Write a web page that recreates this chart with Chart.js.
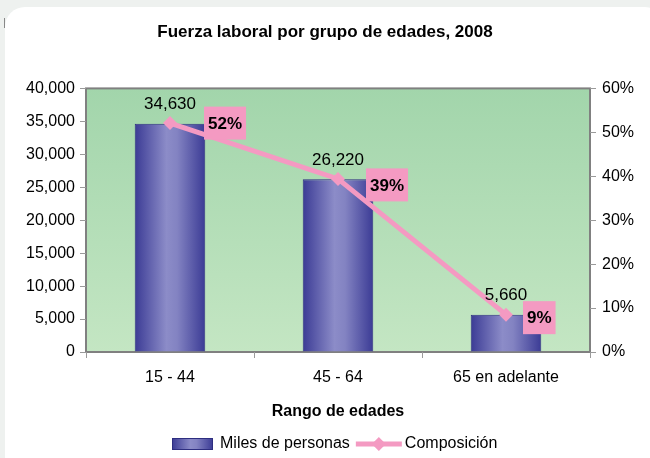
<!DOCTYPE html>
<html>
<head>
<meta charset="utf-8">
<script src="https://cdn.jsdelivr.net/npm/chart.js@4/dist/chart.umd.min.js"></script>
<style>
	body { margin: 0; background: #eef1ef; overflow: hidden; }
	#card { position: absolute; left: 5px; top: 7px; width: 660px; height: 470px; background: #ffffff; border-radius: 20px; }
	#mark { position: absolute; left: 4px; top: 18px; width: 1px; height: 10px; background: #888; }
	#wrap { position: absolute; left: 0; top: 0; width: 650px; height: 458px; }
</style>
</head>
<body>
<div id="card"></div>
<div id="mark"></div>
<div id="wrap"><canvas id="laborChart" width="650" height="458"></canvas></div>
<script>
var categories = [ "15 - 44", "45 - 64", "65 en adelante" ];
var miles = [ 34630, 26220, 5660 ];
var composicion = [ 52.1, 39.4, 8.5 ];
var pctLabels = [ "52%", "39%", "9%" ];
var seriesNames = [ "Miles de personas", "Composición" ];

var FONT = "'Liberation Sans', Arial, sans-serif";
var PINK = "#f49ac2";
var BAR_PCT = 0.42;

function barGradient(ctx, x, w) {
	var g = ctx.createLinearGradient(x - w / 2, 0, x + w / 2, 0);
	g.addColorStop(0, "#3b3b95");
	g.addColorStop(0.45, "#8c8cc8");
	g.addColorStop(0.6, "#8383c2");
	g.addColorStop(1, "#3b3b95");
	return g;
}

// plot area background with border
var plotBg = {
	id : "plotBg",
	beforeDraw : function(chart) {
		var a = chart.chartArea, c = chart.ctx;
		c.save();
		var g = c.createLinearGradient(0, a.top, 0, a.bottom);
		g.addColorStop(0, "#a2d5ab");
		g.addColorStop(1, "#c4e6c3");
		c.fillStyle = g;
		c.fillRect(a.left, a.top, a.right - a.left, a.bottom - a.top);
		c.strokeStyle = "#808080";
		c.lineWidth = 2;
		c.strokeRect(a.left, a.top, a.right - a.left, a.bottom - a.top);
		c.restore();
	}
};

// value labels and pink percentage boxes
var valueLabels = {
	id : "valueLabels",
	afterDatasetsDraw : function(chart, args, opts) {
		var c = chart.ctx;
		c.save();
		c.textAlign = "center";
		c.textBaseline = "middle";
		c.fillStyle = "#000";
		c.font = "17px " + FONT;
		chart.getDatasetMeta(1).data.forEach(function(bar, i) {
			c.fillText(miles[i].toLocaleString("en-US"), bar.x, bar.y - 19);
		});
		c.font = "bold 17px " + FONT;
		chart.getDatasetMeta(0).data.forEach(function(pt, i) {
			var w = c.measureText(pctLabels[i]).width + 8;
			var h = 33;
			var left = pt.x + opts.dx[i];
			var cy = pt.y + opts.dy[i];
			c.fillStyle = PINK;
			c.fillRect(left, cy - h / 2, w, h);
			c.fillStyle = "#000";
			c.fillText(pctLabels[i], left + w / 2, cy + 1);
		});
		c.restore();
	}
};

// legend drawn by hand: gradient swatch and line with diamond
var customLegend = {
	id : "customLegend",
	afterDraw : function(chart) {
		var c = chart.ctx;
		var y = 444;
		c.save();
		c.font = "16px " + FONT;
		c.textBaseline = "middle";
		c.textAlign = "left";
		var x = 172;
		c.fillStyle = barGradient(c, x + 20.5, 41);
		c.fillRect(x, y - 6, 41, 12);
		c.strokeStyle = "#2e2e80";
		c.lineWidth = 1;
		c.strokeRect(x + 0.5, y - 5.5, 40, 11);
		c.fillStyle = "#000";
		c.fillText(seriesNames[0], x + 48, y);
		x = x + 48 + c.measureText(seriesNames[0]).width + 6;
		c.strokeStyle = PINK;
		c.lineWidth = 5;
		c.beginPath();
		c.moveTo(x, y);
		c.lineTo(x + 46, y);
		c.stroke();
		c.fillStyle = PINK;
		c.beginPath();
		c.moveTo(x + 23, y - 7);
		c.lineTo(x + 30, y);
		c.lineTo(x + 23, y + 7);
		c.lineTo(x + 16, y);
		c.closePath();
		c.fill();
		c.fillStyle = "#000";
		c.fillText(seriesNames[1], x + 49, y);
		c.restore();
	}
};

var ctx = document.getElementById("laborChart").getContext("2d");
new Chart(ctx, {
	data : {
		labels : categories,
		datasets : [ {
			type : "line",
			label : seriesNames[1],
			data : composicion,
			yAxisID : "yPct",
			borderColor : PINK,
			backgroundColor : PINK,
			borderWidth : 5,
			pointStyle : "rectRot",
			pointRadius : 7,
			pointHoverRadius : 7,
			pointBorderWidth : 0,
			tension : 0,
			order : 0
		}, {
			type : "bar",
			label : seriesNames[0],
			data : miles,
			yAxisID : "y",
			barPercentage : BAR_PCT,
			categoryPercentage : 1,
			borderColor : "#2e2e80",
			borderWidth : 1,
			borderSkipped : "bottom",
			backgroundColor : function(context) {
				var chart = context.chart;
				if (!chart.chartArea || !chart.scales.x) {
					return "#5a5aaa";
				}
				var x = chart.scales.x.getPixelForValue(context.dataIndex);
				var w = (chart.chartArea.right - chart.chartArea.left) / categories.length * BAR_PCT;
				return barGradient(chart.ctx, x, w);
			},
			order : 1
		} ]
	},
	options : {
		responsive : false,
		animation : false,
		layout : {
			padding : { top : 0, left : 0, right : 0, bottom : 36 }
		},
		plugins : {
			legend : { display : false },
			tooltip : { enabled : false },
			valueLabels : { dx : [ 34, 28, 17 ], dy : [ 0, 6, 3 ] },
			title : {
				display : true,
				text : "Fuerza laboral por grupo de edades, 2008",
				color : "#000",
				font : { family : FONT, size : 17, weight : "bold" },
				padding : { top : 22, bottom : 46 }
			}
		},
		scales : {
			x : {
				grid : { display : true, drawOnChartArea : false, tickLength : 6, color : "#9a9a9a", offset : true },
				border : { display : false },
				ticks : { color : "#000", font : { family : FONT, size : 16 }, padding : 10 },
				title : {
					display : true,
					text : "Rango de edades",
					color : "#000",
					font : { family : FONT, size : 16, weight : "bold" },
					padding : { top : 0, bottom : 1 }
				},
				afterFit : function(scale) { scale.height = 70; }
			},
			y : {
				position : "left",
				min : 0,
				max : 40000,
				grid : { drawOnChartArea : false, tickLength : 6, color : "#9a9a9a" },
				border : { display : false },
				ticks : {
					stepSize : 5000,
					color : "#000",
					font : { family : FONT, size : 16 },
					padding : 5,
					callback : function(v) { return v.toLocaleString("en-US"); }
				},
				afterFit : function(scale) { scale.width = 86; }
			},
			yPct : {
				position : "right",
				min : 0,
				max : 60,
				grid : { drawOnChartArea : false, tickLength : 6, color : "#9a9a9a" },
				border : { display : false },
				ticks : {
					stepSize : 10,
					color : "#000",
					font : { family : FONT, size : 16 },
					padding : 6,
					callback : function(v) { return v + "%"; }
				},
				afterFit : function(scale) { scale.width = 60; }
			}
		}
	},
	plugins : [ plotBg, valueLabels, customLegend ]
});
</script>
</body>
</html>
